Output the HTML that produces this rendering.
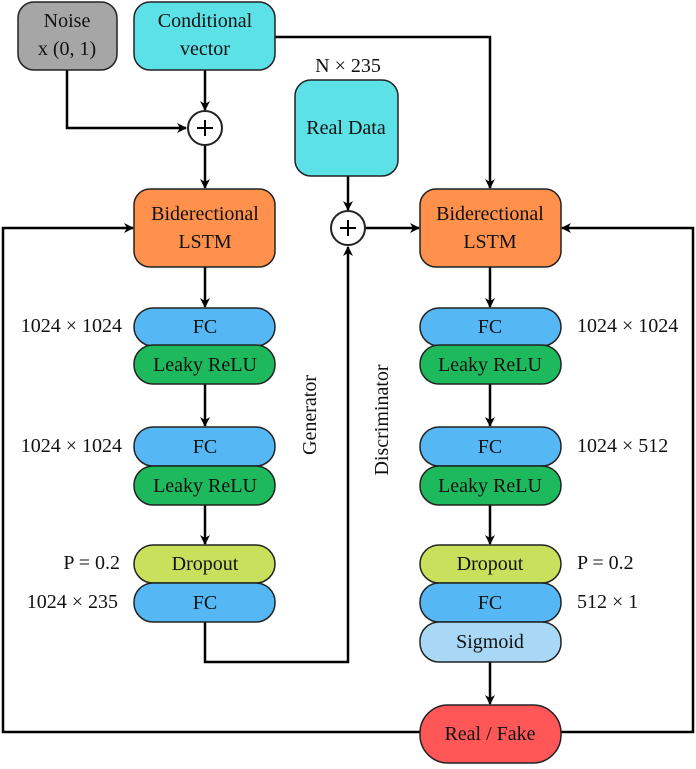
<!DOCTYPE html>
<html><head><meta charset="utf-8"><style>body{margin:0;background:#fff} svg text{font-family:"Liberation Serif","DejaVu Serif",serif;font-size:20px}</style></head><body>
<svg width="696" height="764" viewBox="0 0 696 764" xmlns="http://www.w3.org/2000/svg" text-anchor="middle">
<defs><marker id="a" markerWidth="10" markerHeight="10" refX="9" refY="5" orient="auto" markerUnits="userSpaceOnUse"><path d="M0,0 L10,5 L0,10 L3,5 Z" fill="#000"/></marker></defs>
<g fill="none" stroke="#000" stroke-width="2.5">
<path d="M67,70 V128 H186" marker-end="url(#a)"/>
<path d="M205,70 V110" marker-end="url(#a)"/>
<path d="M205,146 V188" marker-end="url(#a)"/>
<path d="M275,37 H490 V188" marker-end="url(#a)"/>
<path d="M348,176 V210" marker-end="url(#a)"/>
<path d="M366,228 H419" marker-end="url(#a)"/>
<path d="M205,622 V662 H348 V247" marker-end="url(#a)"/>
<path d="M205,267 V307" marker-end="url(#a)"/>
<path d="M205,384 V426" marker-end="url(#a)"/>
<path d="M205,505 V544" marker-end="url(#a)"/>
<path d="M490,267 V307" marker-end="url(#a)"/>
<path d="M490,384 V426" marker-end="url(#a)"/>
<path d="M490,505 V544" marker-end="url(#a)"/>
<path d="M490,662 V704" marker-end="url(#a)"/>
<path d="M420,732 H3 V228 H133" marker-end="url(#a)"/>
<path d="M561,732 H693 V228 H562" marker-end="url(#a)"/>
</g>
<g stroke="#222" stroke-width="1.5">
<rect x="18" y="2" width="99" height="68" rx="16" fill="#a6a6a6"/>
<rect x="134" y="2" width="141" height="68" rx="16" fill="#5ce1e6"/>
<rect x="295" y="80" width="103" height="96" rx="16" fill="#5ce1e6"/>
<circle cx="205" cy="128" r="17" fill="#fff" stroke-width="2"/>
<circle cx="348" cy="228" r="17" fill="#fff" stroke-width="2"/>
<rect x="134" y="189" width="141" height="78" rx="16" fill="#ff914d"/>
<rect x="420" y="189" width="141" height="78" rx="16" fill="#ff914d"/>
<rect x="134" y="308" width="141" height="38" rx="19" fill="#55b8f5"/>
<rect x="134" y="345" width="141" height="39" rx="19" fill="#1db95c"/>
<rect x="134" y="427" width="141" height="39" rx="19" fill="#55b8f5"/>
<rect x="134" y="466" width="141" height="39" rx="19" fill="#1db95c"/>
<rect x="134" y="545" width="141" height="38" rx="19" fill="#c8e05c"/>
<rect x="134" y="583" width="141" height="39" rx="19" fill="#55b8f5"/>
<rect x="420" y="308" width="141" height="38" rx="19" fill="#55b8f5"/>
<rect x="420" y="345" width="141" height="39" rx="19" fill="#1db95c"/>
<rect x="420" y="427" width="141" height="39" rx="19" fill="#55b8f5"/>
<rect x="420" y="466" width="141" height="39" rx="19" fill="#1db95c"/>
<rect x="420" y="545" width="141" height="38" rx="19" fill="#c8e05c"/>
<rect x="420" y="583" width="141" height="39" rx="19" fill="#55b8f5"/>
<rect x="420" y="622" width="141" height="40" rx="19" fill="#a8d8f5"/>
<rect x="420" y="705" width="141" height="58" rx="28" fill="#ff5757"/>
</g>
<g stroke="#000" stroke-width="2"><path d="M197,128 H213 M205,120 V136 M340,228 H356 M348,220 V236"/></g>
<g fill="#111">
<text x="67" y="27">Noise</text><text x="67" y="55">x (0, 1)</text>
<text x="205" y="27">Conditional</text><text x="205" y="55">vector</text>
<text x="348" y="72">N × 235</text><text x="346" y="134">Real Data</text>
<text x="205" y="220">Biderectional</text><text x="205" y="248">LSTM</text>
<text x="490" y="220">Biderectional</text><text x="490" y="248">LSTM</text>
<text x="205" y="333">FC</text><text x="205" y="371">Leaky ReLU</text>
<text x="205" y="453">FC</text><text x="205" y="492">Leaky ReLU</text>
<text x="205" y="570">Dropout</text><text x="205" y="609">FC</text>
<text x="490" y="333">FC</text><text x="490" y="371">Leaky ReLU</text>
<text x="490" y="453">FC</text><text x="490" y="492">Leaky ReLU</text>
<text x="490" y="570">Dropout</text><text x="490" y="609">FC</text>
<text x="490" y="648">Sigmoid</text><text x="490" y="740">Real / Fake</text>
<g text-anchor="end"><text x="122" y="332">1024 × 1024</text><text x="122" y="452">1024 × 1024</text><text x="120" y="569">P = 0.2</text><text x="118" y="608">1024 × 235</text></g>
<g text-anchor="start"><text x="577" y="332">1024 × 1024</text><text x="577" y="452">1024 × 512</text><text x="577" y="569">P = 0.2</text><text x="577" y="608">512 × 1</text></g>
<text transform="translate(316,415) rotate(-90)">Generator</text>
<text transform="translate(388,420) rotate(-90)">Discriminator</text>
</g>
</svg>
</body></html>
